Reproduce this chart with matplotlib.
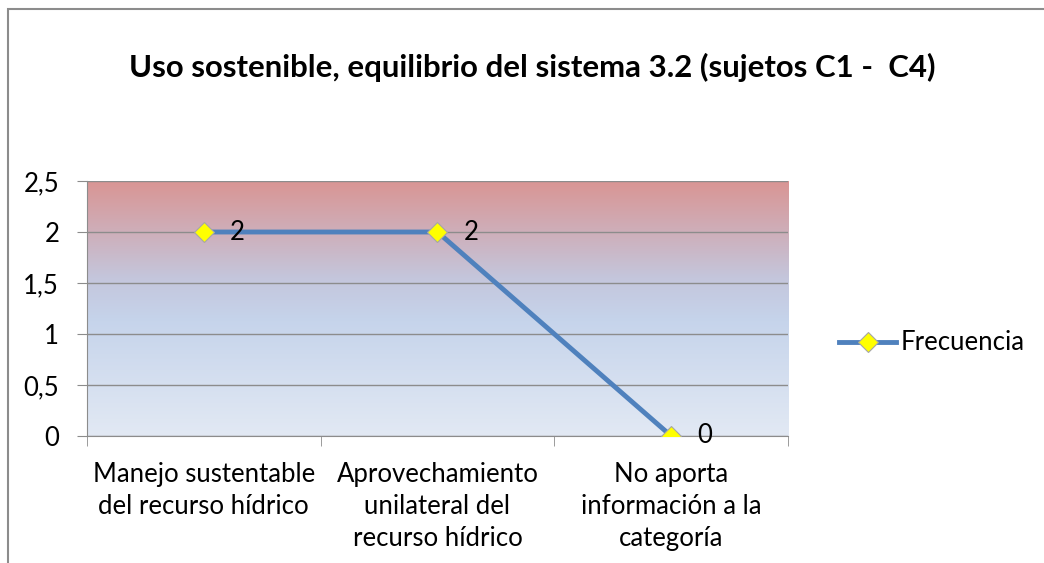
import matplotlib
matplotlib.use("Agg")
import matplotlib.pyplot as plt
import numpy as np
from matplotlib.colors import LinearSegmentedColormap
from matplotlib.patches import Rectangle
from matplotlib.ticker import FuncFormatter, MultipleLocator

plt.rcParams["font.family"] = ["Lato", "DejaVu Sans"]

TITLE = "Uso sostenible, equilibrio del sistema 3.2 (sujetos C1 -  C4)"
CATEGORIES = ["Manejo sustentable\ndel recurso hídrico",
              "Aprovechamiento\nunilateral del\nrecurso hídrico",
              "No aporta\ninformación a la\ncategoría"]
FRECUENCIA = [2, 2, 0]
SERIES_NAME = "Frecuencia"

fig = plt.figure(figsize=(10.44, 5.63), dpi=100)
ax = fig.add_axes([0.0833, 0.2256, 0.6715, 0.4529])

# outer chart border (cut off at right/bottom like the screenshot)
fig.patches.append(Rectangle((0.0075, -0.1), 1.2, 1.1 - 9 / 563, transform=fig.transFigure,
                             fill=False, edgecolor="#8c8c8c", lw=1.5))

# plot-area gradient: red at top -> blue around 1.5 -> pale blue at bottom
cmap = LinearSegmentedColormap.from_list(
    "bg", [(0.0, "#e2e9f4"), (0.45, "#c6d4eb"), (0.62, "#c4c6dc"), (1.0, "#d99594")])
grad = np.linspace(0, 1, 256).reshape(-1, 1)
ax.imshow(grad, cmap=cmap, aspect="auto", origin="lower",
          extent=[0, 1, 0, 1], transform=ax.transAxes, zorder=0)

x = np.arange(len(CATEGORIES))
ax.plot(x, FRECUENCIA, color="#4f81bd", lw=3.5, marker="D", ms=10,
        mfc="#ffff00", mec="#a6a6a6", mew=0.8, label=SERIES_NAME, zorder=3)
for xi, yi in zip(x, FRECUENCIA):
    ax.annotate(str(yi), (xi, yi), xytext=(19, 0), textcoords="offset points",
                ha="left", va="center", fontsize=18.5, color="black", zorder=4)

ax.set_xlim(-0.5, len(CATEGORIES) - 0.5)
ax.set_ylim(0, 2.5)
ax.yaxis.set_major_locator(MultipleLocator(0.5))
ax.yaxis.set_major_formatter(FuncFormatter(lambda v, p: f"{v:g}".replace(".", ",")))
ax.grid(axis="y", color="#8c8c8c", lw=1)
ax.set_axisbelow(False)
for line in ax.get_ygridlines():
    line.set_zorder(1)

ax.set_xticks(x)
ax.set_xticklabels(CATEGORIES, fontsize=18.5, linespacing=1.33)
ax.tick_params(axis="x", length=0, pad=19)
ax.set_xticks(np.arange(len(CATEGORIES) + 1) - 0.5, minor=True)
ax.tick_params(axis="x", which="minor", length=7, color="#8c8c8c", direction="out")
ax.tick_params(axis="y", length=7, color="#8c8c8c", labelsize=18.5, pad=13)

for s in ["top", "right"]:
    ax.spines[s].set_visible(False)
for s in ["left", "bottom"]:
    ax.spines[s].set_color("#8c8c8c")

fig.text(0.510, 1 - 67 / 563, TITLE, ha="center", va="center", fontsize=22.4, fontweight="bold")

fig.legend(handles=ax.get_lines(), labels=[SERIES_NAME], loc="center left",
           bbox_to_anchor=(0.804, 1 - 343 / 563), frameon=False, fontsize=18.5,
           handlelength=2.2, handletextpad=0.2, borderaxespad=0, borderpad=0)

fig.savefig("out.png", dpi=100)
